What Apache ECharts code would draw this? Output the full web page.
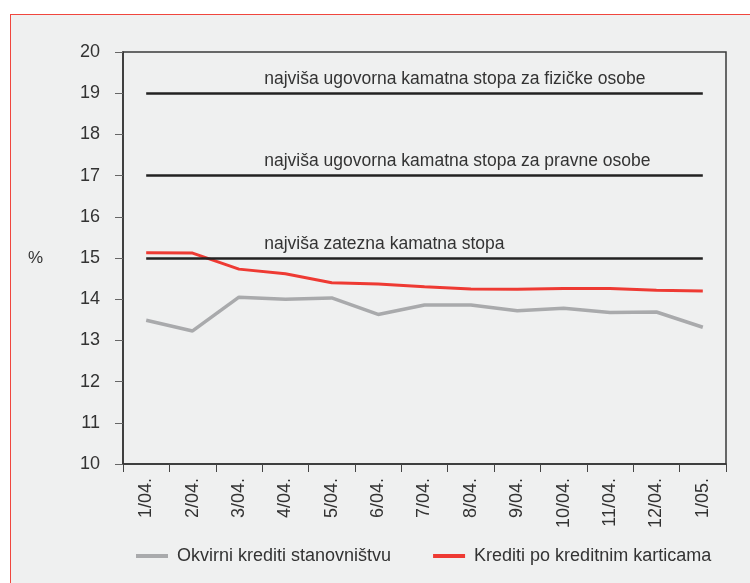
<!DOCTYPE html>
<html>
<head>
<meta charset="utf-8">
<script src="https://cdn.jsdelivr.net/npm/echarts@6/dist/echarts.min.js"></script>
<style>
  html, body { margin: 0; padding: 0; background: #fff; }
  #frame {
    position: absolute; left: 10px; top: 14px; width: 760px; height: 600px;
    background: #eff0f0; border-left: 1.5px solid #f0463e; border-top: 1.5px solid #f0463e;
  }
  #chart { position: absolute; left: 0; top: 0; width: 750px; height: 583px; }
</style>
</head>
<body>
<div id="frame"></div>
<div id="chart"></div>
<script>
const categories = ['1/04.', '2/04.', '3/04.', '4/04.', '5/04.', '6/04.', '7/04.',
  '8/04.', '9/04.', '10/04.', '11/04.', '12/04.', '1/05.']
const okvirni = [13.49, 13.23, 14.05, 14.0, 14.03, 13.63, 13.86, 13.86, 13.72, 13.78, 13.68, 13.69, 13.32]
const kartice = [15.13, 15.12, 14.73, 14.62, 14.4, 14.37, 14.3, 14.25, 14.24, 14.26, 14.26, 14.22, 14.2]
const limits = [
  {name: 'najviša ugovorna kamatna stopa za fizičke osobe', value: 19},
  {name: 'najviša ugovorna kamatna stopa za pravne osobe', value: 17},
  {name: 'najviša zatezna kamatna stopa', value: 15}
]

const font = 'Liberation Sans'
const myChart = echarts.init(document.getElementById('chart'))

myChart.setOption({
  animation: false,
  textStyle: {fontFamily: font},
  grid: {
    left: 123, right: 24, top: 52, bottom: 119,
    show: true, borderColor: '#3a3a3a', borderWidth: 1.5
  },
  legend: {
    left: 131, top: 542,
    icon: 'rect', itemWidth: 32, itemHeight: 4, itemGap: 42,
    textStyle: {fontSize: 18, color: '#333', padding: [0, 0, 0, 4]},
    data: ['Okvirni krediti stanovništvu', 'Krediti po kreditnim karticama']
  },
  xAxis: {
    type: 'category',
    data: categories,
    axisLine: {lineStyle: {color: '#333', width: 1.5}},
    axisTick: {show: true, length: 8, inside: false, lineStyle: {color: '#444'}},
    axisLabel: {rotate: 90, fontSize: 18, color: '#333', margin: 14, interval: 0}
  },
  yAxis: {
    type: 'value',
    min: 10, max: 20, interval: 1,
    name: '%', nameLocation: 'middle', nameRotate: 0, nameGap: 80,
    nameTextStyle: {fontSize: 17, color: '#333'},
    axisLine: {show: true, lineStyle: {color: '#333', width: 1.5}},
    axisTick: {show: true, length: 8, lineStyle: {color: '#666'}},
    axisLabel: {fontSize: 18, color: '#333', margin: 23},
    splitLine: {show: false}
  },
  series: [
    {
      name: 'Okvirni krediti stanovništvu',
      type: 'line',
      data: okvirni,
      symbol: 'none',
      lineStyle: {color: '#a9aaac', width: 3.5},
      itemStyle: {color: '#a9aaac'}
    },
    {
      name: 'Krediti po kreditnim karticama',
      type: 'line',
      data: kartice,
      symbol: 'none',
      lineStyle: {color: '#ee3a33', width: 3},
      itemStyle: {color: '#ee3a33'},
      markLine: {
        silent: true,
        symbol: 'none',
        lineStyle: {color: '#222', width: 2.5, type: 'solid'},
        label: {
          position: 'insideStartTop',
          fontSize: 17.5, color: '#333', fontFamily: font,
          padding: [0, 0, 0, 113]
        },
        data: limits.map(l => [
          {coord: [0, l.value], name: l.name, label: {formatter: l.name}},
          {coord: [categories.length - 1, l.value]}
        ])
      }
    }
  ]
})
</script>
</body>
</html>
